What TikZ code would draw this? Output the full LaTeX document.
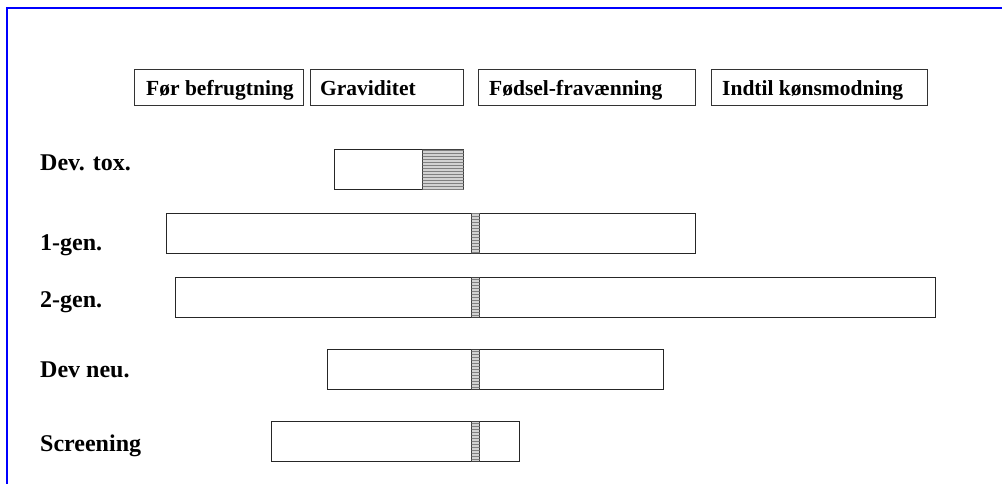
\documentclass[tikz,border=0pt]{standalone}
\usepackage{fontspec}
\setmainfont{Liberation Serif}
\usetikzlibrary{patterns}
\tikzset{
  hdr/.style={draw=black!80, line width=0.9pt, inner sep=0pt, anchor=north west, minimum height=36pt},
  hdrtext/.style={anchor=base west, inner sep=0pt, font=\fontsize{21.5}{25}\selectfont\bfseries},
  rowlabel/.style={anchor=base west, inner sep=0pt, font=\fontsize{24}{28}\selectfont\bfseries},
  bar/.style={draw=black!85, line width=1pt, inner sep=0pt, anchor=north west, minimum height=40pt, fill=white},
  hatch/.style={draw=black!75, line width=1pt, inner sep=0pt, anchor=north west, minimum height=40pt,
    fill=gray!35, postaction={pattern=horizontal lines, pattern color=gray}},
  frame/.style={draw=blue, line width=2pt}
}
\begin{document}
\begin{tikzpicture}[x=1pt,y=-1pt]
\useasboundingbox (0,0) rectangle (1002,484);
\coordinate (fa) at (7,484);
\coordinate (fb) at (7,8);
\coordinate (fc) at (1002,8);
\draw[frame] (fa) -- (fb) -- (fc);

% header boxes
\node[hdr, minimum width=169pt] (h1) at (134,69) {};
\node[hdr, minimum width=153pt] (h2) at (310,69) {};
\node[hdr, minimum width=217pt] (h3) at (478,69) {};
\node[hdr, minimum width=216pt] (h4) at (711,69) {};
\node[hdrtext] (t1) at (146,96) {Før befrugtning};
\node[hdrtext] (t2) at (320,96) {Graviditet};
\node[hdrtext] (t3) at (489,96) {Fødsel-fravænning};
\node[hdrtext] (t4) at (722,96) {Indtil kønsmodning};

% row labels
\node[rowlabel] (l1) at (40,171) {Dev. tox.};
\node[rowlabel] (l2) at (40,250) {1-gen.};
\node[rowlabel] (l3) at (40,307) {2-gen.};
\node[rowlabel] (l4) at (40,377) {Dev neu.};
\node[rowlabel] (l5) at (40,451) {Screening};

% bars
\node[bar, minimum width=129pt] (b1) at (334,149) {};
\node[hatch, minimum width=41pt] (s1) at (422,149) {};
\node[bar, minimum width=529pt] (b2) at (166,213) {};
\node[hatch, minimum width=8pt] (s2) at (471,213) {};
\node[bar, minimum width=760pt] (b3) at (175,277) {};
\node[hatch, minimum width=8pt] (s3) at (471,277) {};
\node[bar, minimum width=336pt] (b4) at (327,349) {};
\node[hatch, minimum width=8pt] (s4) at (471,349) {};
\node[bar, minimum width=248pt] (b5) at (271,421) {};
\node[hatch, minimum width=8pt] (s5) at (471,421) {};
\end{tikzpicture}
\end{document}
